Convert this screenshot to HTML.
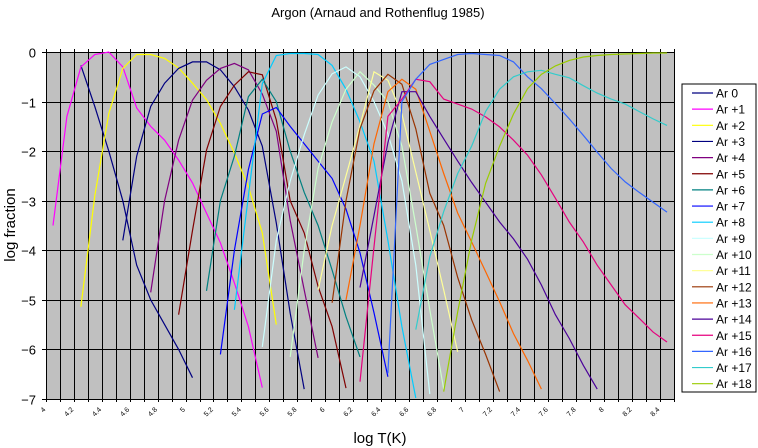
<!DOCTYPE html>
<html><head><meta charset="utf-8"><style>
body{margin:0;background:#fff;width:758px;height:448px;overflow:hidden;font-family:"Liberation Sans",sans-serif}
svg{display:block}
</style></head><body>
<svg id="chart" width="758" height="448" xmlns="http://www.w3.org/2000/svg" font-family="Liberation Sans, sans-serif">
<text x="378" y="17" text-anchor="middle" font-size="13">Argon (Arnaud and Rothenflug 1985)</text>
<text x="0" y="0" transform="translate(15,225) rotate(-90)" text-anchor="middle" font-size="15">log fraction</text>
<text x="380" y="443" text-anchor="middle" font-size="15">log T(K)</text>
<rect x="46" y="52" width="628" height="347" fill="#c0c0c0"/>
<g id="grid"></g><g id="series"></g><g id="axes"></g>
<g id="legend"><rect x="682" y="84" width="74" height="308" fill="#fff" stroke="#000"/></g>
</svg>
<script>
const categories=[];for(let i=0;i<45;i++)categories.push(+(4+i*0.1).toFixed(1));
const xTickLabels=["4","4.2","4.4","4.6","4.8","5","5.2","5.4","5.6","5.8","6","6.2","6.4","6.6","6.8","7","7.2","7.4","7.6","7.8","8","8.2","8.4"];
const yTicks=[0,-1,-2,-3,-4,-5,-6,-7];
const seriesNames=["Ar 0","Ar +1","Ar +2","Ar +3","Ar +4","Ar +5","Ar +6","Ar +7","Ar +8","Ar +9","Ar +10","Ar +11","Ar +12","Ar +13","Ar +14","Ar +15","Ar +16","Ar +17","Ar +18"];
const seriesColors=["#000080","#ff00ff","#ffff00","#000080","#800080","#800000","#008080","#0000ff","#00ccff","#ccffff","#ccffcc","#ffff99","#993300","#ff6600","#4b0099","#e6007e","#3366ff","#33cccc","#99cc00"];
const seriesStart=[4.2,4.0,4.2,4.5,4.7,4.9,5.1,5.2,5.3,5.5,5.7,5.9,6.0,6.1,6.2,6.2,6.4,6.6,6.8];
const s0=[-0.27,-1.1,-2.0,-3.0,-4.3,-5.0,-5.5,-6.0,-6.57];
const s1=[-3.5,-1.3,-0.3,-0.05,0,-0.3,-1.13,-1.5,-1.78,-2.18,-2.64,-3.25,-3.85,-4.66,-5.54,-6.77];
const s2=[-5.14,-2.9,-1.24,-0.33,-0.05,-0.05,-0.13,-0.32,-0.63,-0.96,-1.44,-2.04,-2.72,-3.65,-5.5];
const s3=[-3.8,-2.1,-1.1,-0.63,-0.33,-0.2,-0.2,-0.36,-0.7,-1.17,-1.9,-3.45,-5.27,-6.8];
const s4=[-4.85,-3.0,-1.78,-0.97,-0.57,-0.33,-0.23,-0.36,-0.85,-1.6,-3.4,-4.8,-6.17];
const s5=[-5.3,-3.6,-1.98,-1.1,-0.67,-0.4,-0.46,-1.37,-3.0,-3.65,-4.73,-5.54,-6.78];
const s6=[-4.82,-3.0,-2.1,-0.9,-0.55,-1.0,-2.0,-2.83,-3.5,-4.4,-5.34,-6.15];
const s7=[-6.1,-4.0,-2.37,-1.25,-1.12,-1.5,-1.85,-2.2,-2.55,-3.17,-4.05,-5.26,-6.55];
const s8=[-5.2,-2.9,-0.64,-0.07,-0.03,-0.03,-0.05,-0.27,-0.75,-1.41,-2.2,-3.8,-5.54,-6.98];
const s9=[-5.95,-3.8,-2.6,-1.67,-0.87,-0.44,-0.3,-0.5,-1.0,-1.65,-2.6,-4.3,-6.9];
const s10=[-6.15,-4.0,-2.35,-1.41,-0.75,-0.4,-0.67,-1.0,-1.9,-3.5,-5.2,-6.8];
const s11=[-4.8,-3.5,-2.5,-1.48,-0.4,-0.57,-1.25,-2.42,-3.6,-4.8,-6.05];
const s12=[-5.06,-3.0,-1.55,-0.78,-0.45,-0.65,-1.55,-2.85,-3.5,-4.55,-5.4,-6.1,-6.85];
const s13=[-5.0,-3.5,-1.85,-0.8,-0.55,-0.75,-1.6,-2.45,-3.25,-3.83,-4.43,-5.04,-5.68,-6.22,-6.8];
const s14=[-4.75,-3.3,-1.83,-0.8,-0.8,-1.3,-1.75,-2.2,-2.63,-3.03,-3.43,-3.77,-4.18,-4.7,-5.3,-5.78,-6.32,-6.8];
const s15=[-6.65,-3.93,-1.3,-0.95,-0.55,-0.6,-0.95,-1.05,-1.15,-1.31,-1.51,-1.78,-2.08,-2.48,-2.95,-3.43,-3.83,-4.3,-4.7,-5.1,-5.37,-5.65,-5.85];
const s16=[-6.48,-1.0,-0.55,-0.25,-0.15,-0.05,-0.03,-0.05,-0.07,-0.2,-0.5,-0.74,-1.04,-1.35,-1.68,-2.02,-2.35,-2.62,-2.83,-3.03,-3.23];
const s17=[-5.6,-4.13,-3.22,-2.45,-1.9,-1.2,-0.75,-0.5,-0.4,-0.37,-0.45,-0.52,-0.68,-0.83,-0.95,-1.05,-1.2,-1.35,-1.48];
const s18=[-6.85,-5.24,-3.8,-2.65,-1.9,-1.25,-0.74,-0.45,-0.28,-0.17,-0.1,-0.07,-0.05,-0.04,-0.03,-0.02,-0.02];
const seriesValues=[s0,s1,s2,s3,s4,s5,s6,s7,s8,s9,s10,s11,s12,s13,s14,s15,s16,s17,s18];

const NS="http://www.w3.org/2000/svg";
const L=46,R=674,T=52,B=399,catW=(R-L)/categories.length;
function xScale(t){return L+catW*(Math.round((t-4)/0.1)+0.5);}
function yScale(v){return T+(B-T)*(0-v)/7;}
function mk(tag,attrs,parent){const e=document.createElementNS(NS,tag);for(const k in attrs)e.setAttribute(k,attrs[k]);parent.appendChild(e);return e;}
const grid=document.getElementById('grid'),axes=document.getElementById('axes'),sg=document.getElementById('series');
for(let i=0;i<=categories.length;i++){const x=Math.round(L+catW*i)+0.5;
 const l=mk('line',{x1:x,x2:x,y1:T-3,y2:B+3,stroke:'#000','stroke-width':1},grid);
 
 }
yTicks.forEach(v=>{const y=Math.round(yScale(v))+0.5;
 const l=mk('line',{x1:L-4,x2:R,y1:y,y2:y,stroke:'#000','stroke-width':1},grid);
 
 
 const t=mk('text',{x:36,y:y+5,'text-anchor':'end','font-size':13},axes);
 t.textContent=v===0?'0':'\u2212'+(-v);
 
 });
xTickLabels.forEach(s=>{const x=xScale(parseFloat(s))-7;
 const t=mk('text',{x:0,y:0,transform:`translate(${x},410) rotate(-45)`,'text-anchor':'end','font-size':7},axes);
 t.textContent=s;
 
 });
seriesValues.forEach((vals,si)=>{const pts=vals.map((v,i)=>xScale(seriesStart[si]+i*0.1).toFixed(1)+','+yScale(v).toFixed(1)).join(' ');
 const p=mk('polyline',{points:pts,fill:'none',stroke:seriesColors[si],'stroke-width':1.2},sg);
 
 });
const lg=document.getElementById('legend');
seriesNames.forEach((n,i)=>{const y=93+i*16.15;
 const g=mk('g',{},lg);
 
 
 mk('line',{x1:692,x2:713,y1:y,y2:y,stroke:seriesColors[i],'stroke-width':1.2},g);
 const t=mk('text',{x:716,y:y+4.5,'font-size':12},g);t.textContent=n;});
</script>
</body></html>
